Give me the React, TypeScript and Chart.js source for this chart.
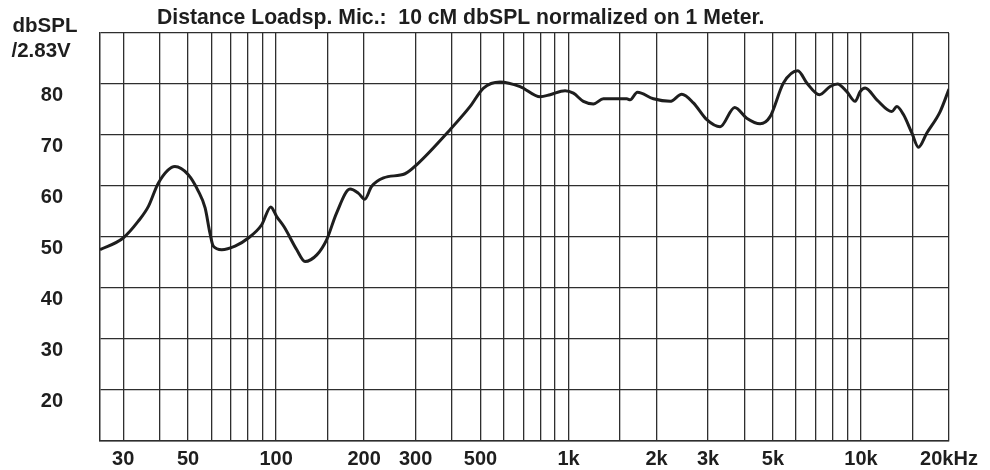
import React, { useEffect, useRef } from "react";
import { Chart, registerables } from "chart.js";

Chart.register(...registerables);

// ---- data ----
const freqHz = [
  25, 30, 33.8, 36.6, 39.6, 45.1, 50.1, 54.2, 57.2, 59.4, 61, 65.2, 72.4, 80.4, 89.3, 95.9,
  100.5, 106.5, 117.7, 125.6, 137.8, 149, 161, 179, 191, 201, 212, 233, 276, 303, 393, 461,
  512, 583, 683, 800, 865, 973, 1039, 1124, 1216, 1316, 1582, 1624, 1720, 1951, 2225, 2440,
  2673, 2971, 3298, 3700, 4068, 4520, 4890, 5432, 6083, 6530, 7211, 7843, 8308, 8946, 9553,
  9935, 10335, 11332, 12754, 13265, 13973, 14926, 15724, 16797, 18656, 20000,
];
const splDb = [
  47.5, 49.8, 53.1, 56.0, 60.6, 63.8, 62.2, 59.0, 55.7, 50.8, 48.2, 47.5, 48.2, 49.8, 52.4, 55.9,
  54.0, 52.0, 47.5, 45.2, 46.5, 49.5, 54.7, 59.4, 58.6, 57.4, 59.9, 61.6, 62.4, 64.2, 71.0, 75.6,
  79.2, 80.4, 79.5, 77.5, 77.9, 78.7, 78.2, 76.6, 76.1, 77.1, 77.1, 76.9, 78.4, 77.1, 76.6, 78.0,
  76.3, 73.0, 71.6, 75.4, 73.3, 72.2, 73.6, 80.2, 82.6, 80.2, 77.9, 79.5, 80.0, 78.5, 76.6,
  78.5, 79.2, 76.9, 74.6, 75.6, 74.0, 70.4, 67.6, 70.4, 74.6, 79.0,
];

const xGridValues = [
  30, 40, 50, 60, 70, 80, 90, 100, 150, 200, 300, 400, 500, 600, 700, 800, 900, 1000,
  1500, 2000, 3000, 4000, 5000, 6000, 7000, 8000, 9000, 10000, 15000, 20000,
];
const xLabelValues = [30, 50, 100, 200, 300, 500, 1000, 2000, 3000, 5000, 10000, 20000];
const xLabelNames = ["30", "50", "100", "200", "300", "500", "1k", "2k", "3k", "5k", "10k", "20kHz"];

const yGridValues = [10, 20, 30, 40, 50, 60, 70, 80, 90];
const yLabelValues = [20, 30, 40, 50, 60, 70, 80];

const chartTitle = "Distance Loadsp. Mic.:  10 cM dbSPL normalized on 1 Meter.";
const yTitleLines = ["dbSPL", "/2.83V"];

const FONT = '"Liberation Sans", Arial, Helvetica, sans-serif';
const INK = "#1e1e1e";
const GRID = "#2e2e2e";

const textPlugin = {
  id: "textPlugin",
  afterDraw(chart: any) {
    const ctx = chart.ctx;
    ctx.save();
    ctx.fillStyle = INK;
    ctx.textAlign = "left";
    ctx.textBaseline = "alphabetic";
    ctx.font = `bold 21.2px ${FONT}`;
    ctx.fillText(chartTitle, 157, 24);
    ctx.font = `bold 20.5px ${FONT}`;
    ctx.fillText(yTitleLines[0], 12.5, 32);
    ctx.fillText(yTitleLines[1], 11.5, 56.5);
    ctx.restore();
  },
};

export default function App() {
  const canvasRef = useRef<HTMLCanvasElement | null>(null);

  useEffect(() => {
    if (!canvasRef.current) return;
    const points = freqHz.map((f, i) => ({ x: f, y: splDb[i] }));
    const chart = new Chart(canvasRef.current, {
      type: "line",
      data: {
        datasets: [
          {
            data: points,
            borderColor: INK,
            borderWidth: 3,
            pointRadius: 0,
            fill: false,
            cubicInterpolationMode: "monotone",
          },
        ],
      },
      options: {
        animation: false,
        responsive: true,
        maintainAspectRatio: false,
        layout: { padding: { left: 0, right: 41, top: 33, bottom: 0 } },
        plugins: {
          legend: { display: false },
          tooltip: { enabled: false },
          title: { display: false },
        },
        scales: {
          x: {
            type: "logarithmic",
            min: 25,
            max: 20000,
            afterBuildTicks: (scale: any) => {
              scale.ticks = xGridValues.map((v) => ({ value: v }));
            },
            afterFit: (scale: any) => {
              scale.height = 29;
              scale.paddingLeft = 0;
              scale.paddingRight = 0;
            },
            ticks: {
              autoSkip: false,
              maxRotation: 0,
              minRotation: 0,
              padding: 6,
              color: INK,
              font: { family: FONT, size: 20, weight: "bold" },
              callback: (value: any) => {
                const idx = xLabelValues.indexOf(Number(value));
                return idx >= 0 ? xLabelNames[idx] : "";
              },
            },
            grid: { color: GRID, lineWidth: 1.3, drawTicks: false },
            border: { color: GRID, width: 1.5 },
          },
          y: {
            type: "linear",
            min: 10,
            max: 90,
            afterBuildTicks: (scale: any) => {
              scale.ticks = yGridValues.map((v) => ({ value: v }));
            },
            afterFit: (scale: any) => {
              scale.width = 100;
              scale.paddingTop = 0;
              scale.paddingBottom = 0;
            },
            ticks: {
              padding: 37,
              labelOffset: 11,
              color: INK,
              font: { family: FONT, size: 20, weight: "bold" },
              callback: (value: any) =>
                yLabelValues.indexOf(Number(value)) >= 0 ? String(value) : "",
            },
            grid: { color: GRID, lineWidth: 1.3, drawTicks: false },
            border: { color: GRID, width: 1.5 },
          },
        },
      },
      plugins: [textPlugin],
    } as any);
    return () => chart.destroy();
  }, []);

  return (
    <div style={{ position: "absolute", left: 0, top: 0, width: 990, height: 470, background: "#fff" }}>
      <canvas ref={canvasRef} />
    </div>
  );
}
